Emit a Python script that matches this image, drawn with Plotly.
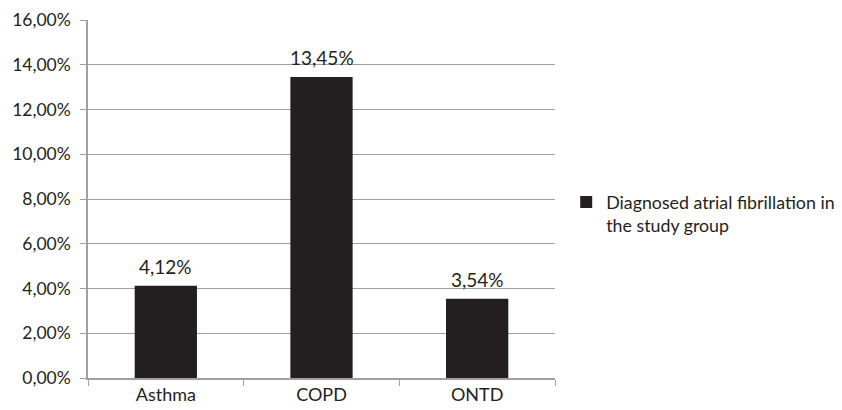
import plotly.graph_objects as go

categories = ["Asthma", "COPD", "ONTD"]
values = [0.0412, 0.1345, 0.0354]
series_name = "Diagnosed atrial fibrillation in<br>the study group"
y_ticks = [0, 0.02, 0.04, 0.06, 0.08, 0.10, 0.12, 0.14, 0.16]

FONT = "Lato, 'Open Sans', sans-serif"
DARK = "#231f20"

fig = go.Figure()
fig.add_trace(go.Bar(
    x=categories, y=values, name=series_name,
    marker=dict(color=DARK, line=dict(width=0)),
    showlegend=True,
))

for c, v in zip(categories, values):
    fig.add_annotation(
        x=c, y=v, text=f"{v * 100:.2f}%".replace(".", ","),
        showarrow=False, yanchor="bottom", yshift=6,
        font=dict(family=FONT, size=19, color=DARK),
    )

fig.update_layout(
    width=834, height=402,
    margin=dict(l=80, r=287, t=12, b=32, autoexpand=False),
    paper_bgcolor="white", plot_bgcolor="white",
    separators=",.",
    bargap=0.6,
    font=dict(family=FONT, size=18, color=DARK),
    showlegend=True,
    legend=dict(x=1.024, xanchor="left", y=0.458, yanchor="middle",
                font=dict(family=FONT, size=17.8, color=DARK),
                itemwidth=30, valign="top", bgcolor="rgba(0,0,0,0)"),
)
fig.update_xaxes(
    automargin=False,
    showgrid=False, showline=True, linecolor="#a0a0a0", linewidth=1.5,
    ticks="outside", tickson="boundaries", ticklen=6, tickcolor="#a0a0a0",
    tickfont=dict(family=FONT, size=18, color=DARK),
)
fig.update_yaxes(
    automargin=False,
    range=[0, 0.16], tickvals=y_ticks, tickformat=".2%",
    showgrid=True, gridcolor="#a0a0a0", gridwidth=1.2,
    showline=True, linecolor="#a0a0a0", linewidth=1.5,
    ticks="outside", ticklen=6, tickcolor="#a0a0a0", ticklabelstandoff=6,
    tickfont=dict(family=FONT, size=17.5, color=DARK), zeroline=False,
)

fig.write_html("out.html")
